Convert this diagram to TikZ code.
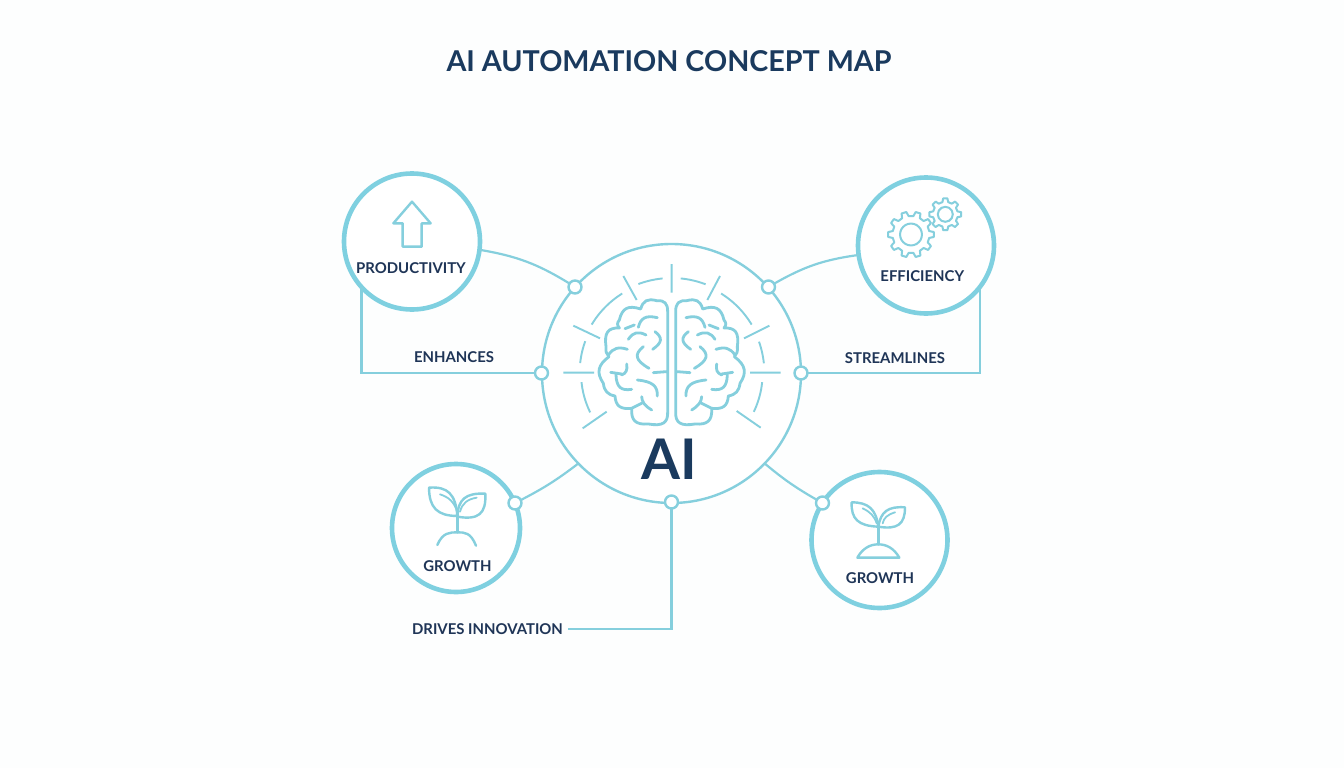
\documentclass[tikz,border=0pt]{standalone}
\usetikzlibrary{calc}
\usepackage{fontspec}
\setmainfont{Lato}
\definecolor{bgc}{HTML}{FDFEFE}
\definecolor{ringc}{HTML}{7FD0E0}
\definecolor{linec}{HTML}{85CFDD}
\definecolor{navy}{HTML}{1A3A5E}
\definecolor{navyb}{HTML}{1F3557}
\tikzset{
  hub/.style={circle,draw=linec,line width=2.4pt,minimum size=259pt,inner sep=0pt,outer sep=0pt},
  ring/.style={circle,draw=ringc,line width=4.6pt,minimum size=#1,inner sep=0pt,outer sep=0pt},
  dot/.style={circle,draw=linec,fill=white,line width=2.4pt,minimum size=13pt,inner sep=0pt,outer sep=0pt},
  link/.style={draw=linec,line width=2.2pt,line join=miter},
  icon/.style={draw=linec,line width=2.4pt,line join=round,line cap=round},
  labeltext/.style={text=navyb,font=\fontsize{#1}{#1}\selectfont\bfseries,inner sep=0pt,text height=0.72*#1 pt,text depth=0pt,anchor=center}
}
\newcommand{\qc}[3]{.. controls ($(#1)!.72!(#2)$) and ($(#3)!.72!(#2)$) .. (#3)}
\newcommand{\brainfolds}{%
 (383,515) -- (383,215) \qc{383,215}{383,180}{350,182}
 \qc{350,182}{312,172}{302,207}
 \qc{302,207}{250,190}{238,240}
 \qc{238,240}{228,252}{238,264}
 \qc{238,264}{190,262}{198,320}
 \qc{198,320}{196,340}{207,350}
 \qc{207,350}{160,385}{190,430}
 \qc{190,430}{194,462}{225,468}
 \qc{225,468}{228,510}{275,505}
 \qc{275,505}{272,556}{325,552}
 \qc{325,552}{385,562}{383,515}
 (352,233) \qc{352,233}{305,222}{295,262}
 (283,255) -- (255,266)
 (265,298) \qc{265,298}{285,268}{318,285}
 (345,275) \qc{345,275}{378,300}{338,328}
 (310,320) \qc{310,320}{270,352}{327,385}
 (205,345) \qc{205,345}{225,316}{262,328}
 (378,395) -- (340,398)
 (212,397) -- (245,402)
 (260,372) \qc{260,372}{264,397}{245,405}
 (228,405) \qc{228,405}{230,455}{275,448}
 (292,420) \qc{292,420}{354,426}{352,468}
 (305,470) \qc{305,470}{306,492}{335,510}
 (305,490) -- (275,505)
}
\begin{document}
\begin{tikzpicture}[x=1pt,y=-1pt]
\path[use as bounding box,fill=bgc] (0,0) rectangle (1344,768);

\node[text=navy,font=\fontsize{28.7}{28.7}\selectfont\bfseries,inner sep=0pt,text height=20.7pt,text depth=0pt] (title) at (669,61) {AI AUTOMATION CONCEPT MAP};

% main circles
\node[hub,fill=white] (ai) at (671.5,373.5) {};
\node[ring=136pt,fill=white] (prod) at (412,241.5) {};
\node[ring=136pt,fill=white] (eff) at (926,245.5) {};
\node[ring=128pt,fill=white] (growl) at (456,528) {};
\node[ring=136pt,fill=white] (growr) at (879.5,540) {};

% anchor dots
\node[dot] (da) at (575,287) {};
\node[dot] (db) at (768.5,287) {};
\node[dot] (dc) at (541.5,373) {};
\node[dot] (dd) at (801,373) {};
\node[dot] (de) at (515,503) {};
\node[dot] (df) at (822.5,503) {};
\node[dot] (dg) at (671.5,502) {};
\coordinate (innovend) at (568,629);

% connectors
\draw[link] (prod.-7.5) to[bend left=11] (da);
\draw[link] (eff.188) to[bend right=11] (db);
\draw[link] (prod.222.6) |- (dc);
\draw[link] (eff.-37) |- (dd);
\draw[link] (de) to[bend right=5] (ai.224);
\draw[link] (df) to[bend left=5] (ai.-44);
\draw[link] (dg) |- (innovend);

% brain and rays
\begin{scope}[shift={(540,240)},x=0.33333pt,y=-0.33333pt]
 \draw[icon,line width=2.8pt] \brainfolds;
 \begin{scope}[shift={(790,0)},xscale=-1]
  \draw[icon,line width=2.8pt] \brainfolds;
 \end{scope}
 \draw[icon,line width=1.9pt,line cap=butt]
  (395,72) -- (395,158)
  (250,108) -- (290,180)
  (100,257) -- (180,295)
  (70,398) -- (162,398)
  (128,565) -- (200,515)
  (540,108) -- (502,180)
  (688,257) -- (612,295)
  (630,398) -- (722,398)
  (662,563) -- (590,513);
 \foreach \a/\b/\r in {95.5/110.6/284,122/149/280,160/174/276,186/206/272,69/84.5/284,31/58/280,5.8/19.5/278,-25.5/-6/273}{
  \draw[icon,line width=1.9pt,line cap=butt] plot[smooth,domain=\a:\b,samples=7] ({395+\r*cos(\x)},{398-\r*sin(\x)});
 }
\end{scope}

% arrow icon
\begin{scope}[shift={(330,160)},x=0.33333pt,y=-0.33333pt]
 \draw[icon] (246,125) -- (302,190) -- (275,190) -- (275,260) -- (218,260) -- (218,190) -- (190,190) -- cycle;
\end{scope}

% gears
\newcommand{\gearicon}[6]{%
 \draw[icon,line width=2pt] \foreach \i in {1,...,#4}{
   \ifnum\i=1 \else -- \fi ({#1+#5*cos(360*\i/#4-360*.30/#4)},{#2+#5*sin(360*\i/#4-360*.30/#4)})
   -- ({#1+#3*cos(360*\i/#4-360*.17/#4)},{#2+#3*sin(360*\i/#4-360*.17/#4)})
   -- ({#1+#3*cos(360*\i/#4+360*.17/#4)},{#2+#3*sin(360*\i/#4+360*.17/#4)})
   -- ({#1+#5*cos(360*\i/#4+360*.30/#4)},{#2+#5*sin(360*\i/#4+360*.30/#4)})
 } -- cycle;
 \draw[icon,line width=2pt] plot[smooth cycle,domain=0:330,samples=12] ({#1+#6*cos(\x)},{#2+#6*sin(\x)});
}
\gearicon{911}{234.5}{23}{10}{18.5}{11}
\gearicon{945.3}{214.3}{16}{8}{12.5}{7.5}

% left plant
\begin{scope}[shift={(380,455)},x=0.33333pt,y=-0.33333pt]
 \draw[icon] (147,98) \qc{147,98}{225,92}{232,183} \qc{232,183}{148,182}{147,98};
 \draw[icon] (316,116) \qc{316,116}{235,112}{232,185} \qc{232,185}{320,200}{316,116};
 \draw[icon,line width=1.8pt] (180,118) \qc{180,118}{218,130}{232,170} (290,128) \qc{290,128}{250,135}{240,170};
 \draw[icon] (232,165) -- (232,232);
 \draw[icon] (172,270) .. controls (188,232) and (210,232) .. (232,232) .. controls (254,232) and (272,232) .. (288,272);
\end{scope}

% right plant
\begin{scope}[shift={(760,455)},x=0.33333pt,y=-0.33333pt]
 \draw[icon] (275,142) \qc{275,142}{345,142}{355,215} \qc{355,215}{272,212}{275,142};
 \draw[icon] (435,157) \qc{435,157}{365,152}{355,215} \qc{355,215}{435,228}{435,157};
 \draw[icon,line width=1.8pt] (308,160) \qc{308,160}{340,175}{350,205} (405,172) \qc{405,172}{373,182}{368,205};
 \draw[icon] (355,215) -- (355,268);
 \draw[icon] (292,308) .. controls (308,280) and (330,268) .. (355,268) .. controls (380,268) and (402,280) .. (418,308) -- cycle;
\end{scope}

% labels
\node[text=navy,font=\fontsize{56}{56}\selectfont\bfseries,inner sep=0pt,text height=40pt,text depth=0pt] (ailabel) at (669.5,459) {AI};
\node[labeltext=14.9] (lprod) at (411,268.5) {PRODUCTIVITY};
\node[labeltext=14.9] (leff) at (922.3,276.5) {EFFICIENCY};
\node[labeltext=14.9] (lgl) at (457.5,566) {GROWTH};
\node[labeltext=14.9] (lgr) at (880,578.5) {GROWTH};
\node[labeltext=14.9] (lenh) at (454,357.5) {ENHANCES};
\node[labeltext=14.9] (lstr) at (895,358) {STREAMLINES};
\node[labeltext=14.9] (ldrv) at (487.5,629) {DRIVES INNOVATION};
\end{tikzpicture}
\end{document}
